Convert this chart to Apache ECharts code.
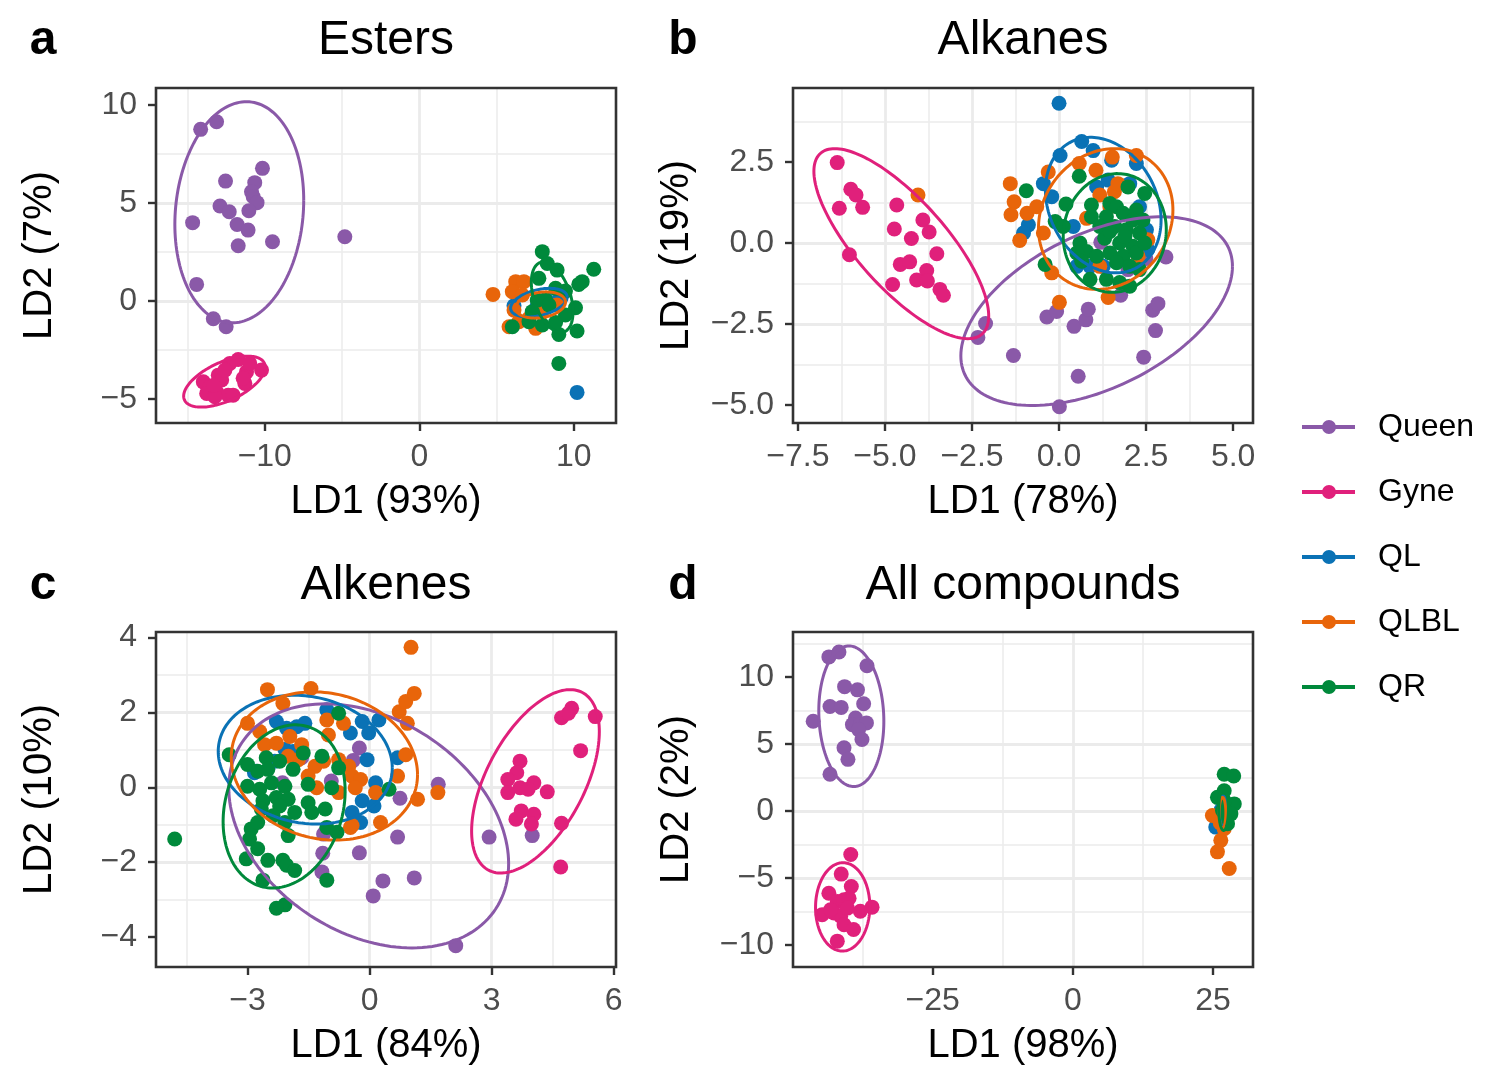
<!DOCTYPE html>
<html>
<head>
<meta charset="utf-8">
<title>LDA scores</title>
<script src="https://cdn.jsdelivr.net/npm/echarts@6/dist/echarts.min.js"></script>
<style>
  html, body { margin: 0; padding: 0; background: #fff; }
  #chart { width: 1498px; height: 1091px; }
</style>
</head>
<body>
<div id="chart"></div>
<script>
const FONT = '"Liberation Sans", Arial, Helvetica, sans-serif';

const groups = ['Queen', 'Gyne', 'QL', 'QLBL', 'QR'];
const colors = ['#8A59A8', '#E0207B', '#0A72B5', '#E8650A', '#00893B'];

// ---- a. Esters ----
const estersXTicks = [-10, 0, 10];
const estersYTicks = [-5, 0, 5, 10];
const estersQueen = [[-14.15,8.76],[-13.12,9.15],[-10.15,6.77],[-12.54,6.12],[-10.65,6.04],[-10.86,5.58],[-10.75,5.32],[-10.5,5.02],[-12.9,4.85],[-12.3,4.56],[-11.03,4.61],[-14.67,4.0],[-11.79,3.91],[-11.08,3.62],[-11.72,2.82],[-9.5,3.03],[-4.82,3.28],[-14.41,0.85],[-13.33,-0.9],[-12.5,-1.31]];
const estersGyne = [[-11.72,-2.98],[-12.26,-3.18],[-11.18,-3.61],[-10.21,-3.52],[-13.01,-3.78],[-13.98,-4.12],[-11.29,-4.2],[-13.55,-4.37],[-13.12,-4.63],[-12.37,-4.8],[-13.76,-4.71],[-12.79,-4.03],[-12.58,-3.52],[-13.23,-4.88],[-10.97,-3.18],[-11.4,-3.94],[-13.3,-4.3],[-12.05,-4.8]];
const estersQL = [[10.21,-4.66],[6.13,-0.24],[9.03,0.05],[7.6,-0.3],[8.2,0.1]];
const estersQLBL = [[4.77,0.34],[6.24,0.99],[6.77,0.99],[6.02,0.48],[6.13,-0.46],[5.81,-1.31],[7.53,-1.39],[6.67,0.31],[7.1,-0.88],[6.45,-1.05],[7.9,-0.6],[8.9,-0.2]];
const estersQR = [[7.96,2.52],[8.28,1.92],[8.92,1.58],[11.29,1.62],[10.54,0.99],[10.32,0.85],[7.74,1.16],[8.82,0.65],[9.46,0.51],[8.17,0.05],[7.63,0.05],[10.11,-0.34],[9.46,-0.71],[7.1,-1.05],[6.02,-1.31],[7.96,-1.22],[9.03,-1.7],[10.21,-1.53],[8.82,-1.09],[9.03,-3.18],[8.39,-0.2],[7.31,-0.54]];
// ellipse: [centre x, centre y, rightmost x, rightmost y, top y]
const estersEllipses = [[-11.65,4.53,-7.48,5.15,10.17],[-12.61,-4.11,-9.97,-3.37,-2.81],[7.74,-0.08,9.57,0.2,0.65],[7.85,-0.2,9.46,-0.05,0.47],[8.6,0.2,9.95,-0.55,2.0]];

// ---- b. Alkanes ----
const alkanesXTicks = [-7.5, -5, -2.5, 0, 2.5, 5];
const alkanesYTicks = [-5, -2.5, 0, 2.5];
const alkanesQueen = [[-2.11,-2.48],[-2.33,-2.91],[-1.31,-3.47],[-0.35,-2.28],[-0.07,-2.11],[0.43,-2.57],[0.77,-2.37],[0.84,-2.04],[0.55,-4.11],[0.01,-5.05],[2.43,-3.52],[2.77,-2.7],[2.69,-2.07],[2.84,-1.87],[3.07,-0.43],[2.49,-0.48],[1.2,0.02],[1.77,-1.61],[1.98,-0.82]];
const alkanesGyne = [[-6.37,2.48],[-5.98,1.66],[-5.83,1.48],[-6.31,1.07],[-5.64,1.1],[-4.66,1.17],[-6.02,-0.36],[-3.91,0.71],[-4.73,0.43],[-3.73,0.34],[-4.24,0.14],[-3.51,-0.33],[-4.56,-0.66],[-4.29,-0.58],[-3.8,-0.85],[-4.09,-1.14],[-3.78,-1.17],[-4.78,-1.28],[-3.42,-1.43],[-3.32,-1.61]];
const alkanesQL = [[0.0,4.31],[0.65,3.13],[0.03,2.7],[0.98,2.85],[2.22,2.45],[-0.45,1.83],[-0.21,1.43],[-0.88,0.56],[-1.02,0.31],[0.41,0.51],[1.51,2.55],[2.51,0.41],[0.51,-0.72],[1.08,1.73],[1.41,1.94],[2.03,1.83],[1.27,-0.72],[0.89,-0.72],[2.31,1.12],[2.55,-0.2]];
const alkanesQLBL = [[-1.4,1.83],[-1.29,1.27],[-1.38,0.87],[-1.13,0.08],[-0.92,0.92],[-0.64,1.12],[-0.31,2.19],[-0.45,0.31],[-0.21,-0.92],[0.01,-1.83],[-4.05,1.48],[0.58,2.45],[1.06,2.24],[1.53,2.65],[2.22,2.7],[1.17,1.48],[1.59,1.58],[2.55,0.1],[1.41,-1.68],[1.17,-0.72],[0.79,0.76],[1.46,1.12],[1.69,1.83],[2.27,-0.41]];
const alkanesQR = [[-0.94,1.61],[0.58,2.06],[0.2,1.2],[-0.11,0.66],[0.12,0.51],[-0.4,-0.66],[0.93,1.17],[0.93,0.81],[1.98,1.73],[2.46,1.53],[1.46,1.22],[1.65,1.12],[1.84,0.92],[2.22,1.02],[1.36,0.81],[1.6,0.51],[1.93,0.41],[2.31,0.31],[2.41,0.71],[1.31,0.15],[1.74,0.0],[2.12,-0.1],[0.6,0.0],[0.79,-0.26],[0.51,-0.31],[0.65,-0.56],[1.08,-0.41],[1.46,-0.31],[1.84,-0.41],[2.22,-0.31],[1.65,-0.61],[2.03,-0.72],[2.31,-0.82],[0.89,-1.12],[1.36,-1.12],[1.74,-1.22],[2.03,-1.33],[2.12,0.71],[1.17,0.51],[1.89,0.2],[1.46,0.36],[2.46,0.0]];
const alkanesEllipses = [[1.08,-2.10,4.98,-0.72,0.81],[-4.53,-0.02,-2.02,-2.25,2.91],[1.27,1.17,2.93,0.71,3.26],[1.34,0.74,3.27,1.02,2.91],[1.6,0.31,3.08,0.41,2.14]];

// ---- c. Alkenes ----
const alkenesXTicks = [-3, 0, 3, 6];
const alkenesYTicks = [-4, -2, 0, 2, 4];
const alkenesQueen = [[2.94,-1.33],[4.0,-1.29],[1.69,0.08],[0.75,-0.29],[0.69,-1.33],[-0.25,-1.75],[-1.15,-1.76],[-1.17,-2.26],[0.33,-2.5],[0.09,-2.9],[1.1,-2.42],[2.12,-4.23],[-0.25,1.05],[-0.4,0.72],[-1.67,0.79],[-2.14,0.12],[-0.94,0.17],[-0.37,-0.87],[-1.13,-1.25]];
const alkenesGyne = [[4.72,1.86],[4.97,2.11],[4.89,1.98],[5.55,1.89],[5.19,0.98],[3.7,0.7],[3.62,0.39],[3.4,0.21],[4.04,0.12],[3.7,-0.01],[3.9,-0.05],[4.37,-0.12],[3.4,-0.14],[3.73,-0.63],[4.04,-0.72],[3.6,-0.85],[3.98,-0.98],[4.72,-0.96],[4.7,-2.13]];
const alkenesQL = [[-1.05,2.07],[-2.29,1.76],[-2.04,1.58],[-1.79,1.62],[-1.59,1.71],[-0.18,1.76],[-0.02,1.45],[0.23,1.8],[-0.47,1.45],[-2.08,1.01],[-2.33,0.7],[-2.83,0.39],[-0.06,0.74],[0.69,0.79],[0.15,0.12],[-0.18,-0.36],[0.11,-0.5],[-0.43,-0.67],[-0.22,-0.94],[-1.88,0.96],[-2.79,0.43]];
const alkenesQLBL = [[-2.51,2.61],[-1.44,2.64],[-2.13,2.24],[-3.0,1.71],[-2.7,1.49],[-2.58,1.14],[-2.29,1.18],[-1.96,1.36],[-1.67,1.14],[-1.05,1.8],[-1.01,1.4],[-0.64,1.71],[-1.75,0.74],[-1.34,0.56],[-1.13,0.7],[-0.76,0.74],[-0.51,0.56],[-0.43,0.3],[-0.22,0.21],[-0.35,-0.01],[-0.76,-0.14],[-1.3,-0.01],[-1.51,0.3],[0.73,2.02],[0.89,2.29],[1.1,2.51],[0.93,1.71],[0.89,0.87],[0.69,0.3],[1.68,-0.14],[1.18,-0.32],[0.27,-0.94],[-0.43,-1.02],[0.15,-0.14],[-2.0,0.83],[1.02,3.74],[-0.47,-1.07]];
const alkenesQR = [[-3.45,0.87],[-3.0,0.61],[-2.75,0.43],[-2.54,0.79],[-2.21,0.7],[-2.5,0.48],[-3.0,0.03],[-2.7,-0.05],[-2.41,0.12],[-2.08,0.03],[-1.88,0.48],[-1.63,0.92],[-1.17,0.83],[-0.76,1.98],[-0.76,0.52],[-1.51,0.08],[-0.93,-0.01],[-2.62,-0.36],[-2.29,-0.27],[-2.0,-0.32],[-2.66,-0.58],[-2.21,-0.5],[-1.84,-0.67],[-1.51,-0.41],[-1.42,-0.67],[-1.09,-0.58],[-2.91,-1.11],[-2.75,-0.94],[-2.95,-1.38],[-2.75,-1.64],[-3.03,-1.91],[-2.5,-1.95],[-2.13,-1.95],[-2.04,-2.08],[-1.84,-2.22],[-2.62,-2.48],[-1.05,-2.48],[-1.05,-1.07],[-2.08,-3.14],[-2.29,-3.23],[-2.08,-0.94],[-2.0,-1.29],[-0.8,-1.2],[0.48,-0.05],[-2.37,-0.76],[-4.79,-1.38]];
const alkenesEllipses = [[-0.02,-1.03,3.42,-2.04,2.23],[4.08,0.16,5.65,1.49,2.61],[-1.58,0.74,0.56,0.52,2.46],[-1.11,0.57,1.18,0.34,2.55],[-2.10,-0.51,-0.6,-0.1,1.67]];

// ---- d. All compounds ----
const allXTicks = [-25, 0, 25];
const allYTicks = [-10, -5, 0, 5, 10];
const allQueen = [[-43.5,11.5],[-41.7,11.87],[-36.7,10.84],[-40.7,9.28],[-38.4,9.04],[-43.3,7.8],[-41.3,7.73],[-37.3,8.0],[-46.3,6.69],[-38.75,6.94],[-39.3,6.44],[-37.9,6.44],[-36.8,6.57],[-38.2,6.07],[-37.6,5.33],[-40.8,4.72],[-40.1,3.85],[-43.3,2.74]];
const allGyne = [[-39.6,-3.26],[-41.3,-4.72],[-39.5,-5.65],[-43.5,-6.15],[-42.0,-6.76],[-40.8,-6.64],[-39.9,-6.52],[-35.8,-7.19],[-37.9,-7.5],[-44.7,-7.75],[-42.6,-7.63],[-41.4,-7.87],[-40.8,-8.5],[-39.1,-8.86],[-42.0,-9.73],[-43.2,-7.38],[-40.2,-7.26]];
const allQL = [[25.5,-1.21],[26.5,0.1],[27.2,-0.5]];
const allQLBL = [[24.9,-0.35],[26.4,-2.2],[25.8,-3.06],[27.9,-4.3],[27.0,-1.33],[26.3,-0.9]];
const allQR = [[27.0,2.74],[28.7,2.61],[27.0,1.5],[25.8,1.01],[28.8,0.52],[28.2,-0.22],[27.6,-0.96],[27.0,0.76],[26.7,0.02],[27.3,-0.7]];
const allEllipses = [[-39.5,7.07,-33.7,6.69,12.32],[-41.04,-7.17,-36.2,-7.13,-3.87],[26.8,0,27.5,0,1.1],[26.7,-0.15,27.3,-0.15,1.01],[26.9,0.15,27.76,0.15,1.76]];

const panels = [
  { letter: 'a', title: 'Esters', xName: 'LD1 (93%)', yName: 'LD2 (7%)',
    left: 156, top: 88, xMin: -17.04, xMax: 12.73, yMin: -6.22, yMax: 10.87,
    xStep: 10, yStep: 5, xTicks: estersXTicks, yTicks: estersYTicks, xDec: 0, yDec: 0,
    points: [estersQueen, estersGyne, estersQL, estersQLBL, estersQR], ellipses: estersEllipses },
  { letter: 'b', title: 'Alkanes', xName: 'LD1 (78%)', yName: 'LD2 (19%)',
    left: 793, top: 88, xMin: -7.64, xMax: 5.57, yMin: -5.55, yMax: 4.78,
    xStep: 2.5, yStep: 2.5, xTicks: alkanesXTicks, yTicks: alkanesYTicks, xDec: 1, yDec: 1,
    points: [alkanesQueen, alkanesGyne, alkanesQL, alkanesQLBL, alkanesQR], ellipses: alkanesEllipses },
  { letter: 'c', title: 'Alkenes', xName: 'LD1 (84%)', yName: 'LD2 (10%)',
    left: 156, top: 632, xMin: -5.25, xMax: 6.06, yMin: -4.8, yMax: 4.15,
    xStep: 3, yStep: 2, xTicks: alkenesXTicks, yTicks: alkenesYTicks, xDec: 0, yDec: 0,
    points: [alkenesQueen, alkenesGyne, alkenesQL, alkenesQLBL, alkenesQR], ellipses: alkenesEllipses },
  { letter: 'd', title: 'All compounds', xName: 'LD1 (98%)', yName: 'LD2 (2%)',
    left: 793, top: 632, xMin: -49.9, xMax: 32.14, yMin: -11.66, yMax: 13.36,
    xStep: 25, yStep: 5, xTicks: allXTicks, yTicks: allYTicks, xDec: 0, yDec: 0,
    points: [allQueen, allGyne, allQL, allQLBL, allQR], ellipses: allEllipses }
];

const PW = 460, PH = 335;

const fmt = d => v => (v < 0 ? '\u2212' : '') + Math.abs(v).toFixed(d);

function axisCommon(step, ticks, dec, name, gap, margin) {
  return {
    type: 'value',
    minInterval: step,
    maxInterval: step,
    name: name,
    nameLocation: 'middle',
    nameGap: gap,
    nameTextStyle: { fontSize: 40, color: '#000', fontFamily: FONT },
    axisLine: { show: false, onZero: false },
    axisTick: { show: true, length: 8, customValues: ticks, lineStyle: { color: '#333', width: 2.4 } },
    axisLabel: { customValues: ticks, formatter: fmt(dec), fontSize: 32, color: '#4D4D4D', margin: margin, fontFamily: FONT },
    splitLine: { show: true, showMinLine: false, showMaxLine: false, lineStyle: { color: '#EBEBEB', width: 2.8 } },
    minorTick: { show: false, splitNumber: 2 },
    minorSplitLine: { show: true, lineStyle: { color: '#EBEBEB', width: 1.5 } }
  };
}

// 橢圓：以中心、最右點與最高點決定
function ellipseRenderer(params, api) {
  const cx = api.value(0), cy = api.value(1);
  const ux = api.value(2) - cx, uy = api.value(3) - cy;
  const h = api.value(4) - cy;
  const vy = Math.sqrt(Math.max(h * h - uy * uy, 0));
  const pts = [];
  for (let k = 0; k <= 160; k++) {
    const t = k / 160 * Math.PI * 2;
    pts.push(api.coord([cx + ux * Math.cos(t), cy + uy * Math.cos(t) + vy * Math.sin(t)]));
  }
  return {
    type: 'polyline',
    shape: { points: pts },
    style: { stroke: colors[params.dataIndex], fill: null, lineWidth: 3 }
  };
}

const grid = [], xAxis = [], yAxis = [], series = [], graphic = [];

panels.forEach((p, i) => {
  grid.push({ left: p.left, top: p.top, width: PW, height: PH, show: true, z: 1,
    backgroundColor: 'transparent', borderColor: '#333', borderWidth: 2.6 });

  xAxis.push(Object.assign(axisCommon(p.xStep, p.xTicks, p.xDec, p.xName, 59, 18),
    { gridIndex: i, min: p.xMin, max: p.xMax }));
  yAxis.push(Object.assign(axisCommon(p.yStep, p.yTicks, p.yDec, p.yName, 96, 19),
    { gridIndex: i, min: p.yMin, max: p.yMax }));

  p.points.forEach((pts, g) => {
    series.push({
      type: 'scatter', name: groups[g], xAxisIndex: i, yAxisIndex: i,
      data: pts, symbolSize: 15, silent: true, z: 2,
      itemStyle: { color: colors[g], opacity: 1 }
    });
  });

  series.push({
    type: 'custom', xAxisIndex: i, yAxisIndex: i, z: 3, silent: true,
    data: p.ellipses, encode: { x: 0, y: 1 }, renderItem: ellipseRenderer
  });

  const ty = p.top < 300 ? 41 : 586;
  graphic.push({ type: 'text', x: p.left < 300 ? 43 : 683, y: ty,
    style: { text: p.letter, fontSize: 48, fontWeight: 'bold', fontFamily: FONT, fill: '#000', align: 'center', verticalAlign: 'middle' } });
  graphic.push({ type: 'text', x: p.left + PW / 2, y: ty,
    style: { text: p.title, fontSize: 48, fontFamily: FONT, fill: '#000', align: 'center', verticalAlign: 'middle' } });
});

const chart = echarts.init(document.getElementById('chart'));
chart.setOption({
  animation: false,
  backgroundColor: '#fff',
  textStyle: { fontFamily: FONT },
  grid, xAxis, yAxis, series, graphic,
  legend: {
    data: groups,
    orient: 'vertical',
    left: 1297,
    top: 405,
    itemWidth: 53,
    itemHeight: 14,
    itemGap: 31,
    selectedMode: false,
    icon: 'path://M0,5H53V9H0Z M20,7A7,7 0 1,1 34,7A7,7 0 1,1 20,7Z',
    textStyle: { fontSize: 32, color: '#000', lineHeight: 34, padding: [0, 0, 0, 18], fontFamily: FONT }
  }
});
</script>
</body>
</html>
